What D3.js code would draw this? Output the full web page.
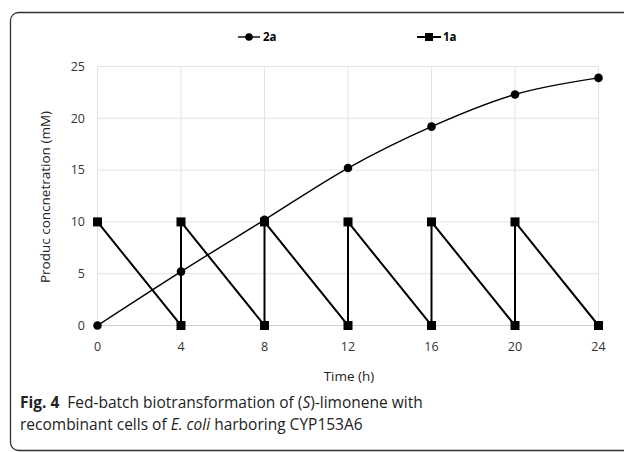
<!DOCTYPE html>
<html>
<head>
<meta charset="utf-8">
<script src="https://cdn.jsdelivr.net/npm/d3@7"></script>
<style>
  body { margin: 0; background: #fff; }
  svg { display: block; }
</style>
</head>
<body>
<svg id="chart" width="624" height="452"></svg>
<script>
// 2a product, measured every 4 h
const hours = [0, 4, 8, 12, 16, 20, 24];
const product2a = [0, 5.2, 10.2, 15.2, 19.2, 22.3, 23.9];

// 1a substrate, fed again every 4 h
const feedTime = [0, 4, 4, 8, 8, 12, 12, 16, 16, 20, 20, 24];
const feedConc = [10, 0, 10, 0, 10, 0, 10, 0, 10, 0, 10, 0];

const xTicks = [0, 4, 8, 12, 16, 20, 24];
const yTicks = [0, 5, 10, 15, 20, 25];

const svg = d3.select("#chart");
const tickFont = "Open Sans, sans-serif";

// figure frame (rounded, runs off the right edge)
svg.append("rect")
  .attr("x", 10.5).attr("y", 12.5)
  .attr("width", 700).attr("height", 438)
  .attr("rx", 8)
  .attr("fill", "none")
  .attr("stroke", "#333")
  .attr("stroke-width", 1.3);

const x = d3.scaleLinear().domain([0, 24]).range([97.5, 598.5]);
const y = d3.scaleLinear().domain([0, 25]).range([325.5, 66.5]);

// grid
svg.append("g").selectAll("line")
  .data(yTicks)
  .join("line")
  .attr("x1", x(0)).attr("x2", x(24))
  .attr("y1", d => y(d)).attr("y2", d => y(d))
  .attr("stroke", d => d === 0 ? "#cfcfcf" : "#e3e3e3")
  .attr("stroke-width", 1);

svg.append("g").selectAll("line")
  .data(xTicks)
  .join("line")
  .attr("x1", d => x(d)).attr("x2", d => x(d))
  .attr("y1", y(0)).attr("y2", y(25))
  .attr("stroke", "#e3e3e3")
  .attr("stroke-width", 1);

// tick labels
svg.append("g").selectAll("text")
  .data(yTicks)
  .join("text")
  .attr("x", 85)
  .attr("y", d => y(d))
  .attr("dy", "0.35em")
  .attr("text-anchor", "end")
  .style("font-family", tickFont)
  .style("font-size", "12.5px")
  .style("fill", "#333")
  .text(d => d);

svg.append("g").selectAll("text")
  .data(xTicks)
  .join("text")
  .attr("x", d => x(d))
  .attr("y", 351)
  .attr("text-anchor", "middle")
  .style("font-family", tickFont)
  .style("font-size", "12.5px")
  .style("fill", "#333")
  .text(d => d);

// axis titles
svg.append("text")
  .attr("transform", "translate(50,197) rotate(-90)")
  .attr("text-anchor", "middle")
  .style("font-family", tickFont)
  .style("font-size", "13.5px")
  .style("fill", "#222")
  .text("Produc concnetration (mM)");

svg.append("text")
  .attr("x", 349).attr("y", 381)
  .attr("text-anchor", "middle")
  .style("font-family", tickFont)
  .style("font-size", "13.5px")
  .style("fill", "#222")
  .text("Time (h)");

// series 2a: smoothed line with round markers
const pts2a = hours.map((h, i) => [h, product2a[i]]);
svg.append("path")
  .datum(pts2a)
  .attr("fill", "none")
  .attr("stroke", "#000")
  .attr("stroke-width", 1.4)
  .attr("d", d3.line().x(d => x(d[0])).y(d => y(d[1])).curve(d3.curveCatmullRom.alpha(0)));

// series 1a: sawtooth with square markers
const pts1a = feedTime.map((t, i) => [t, feedConc[i]]);
svg.append("path")
  .datum(pts1a)
  .attr("fill", "none")
  .attr("stroke", "#000")
  .attr("stroke-width", 2)
  .attr("d", d3.line().x(d => x(d[0])).y(d => y(d[1])));

svg.append("g").selectAll("circle")
  .data(pts2a)
  .join("circle")
  .attr("cx", d => x(d[0]))
  .attr("cy", d => y(d[1]))
  .attr("r", 4.3)
  .attr("fill", "#000");

svg.append("g").selectAll("rect")
  .data(pts1a)
  .join("rect")
  .attr("x", d => x(d[0]) - 4.5)
  .attr("y", d => y(d[1]) - 4.5)
  .attr("width", 9).attr("height", 9)
  .attr("fill", "#000");

// legend
const legend = svg.append("g").attr("transform", "translate(0,37)");
legend.append("line").attr("x1", 238).attr("x2", 260).attr("y1", 0).attr("y2", 0)
  .attr("stroke", "#000").attr("stroke-width", 1.4);
legend.append("circle").attr("cx", 249).attr("cy", 0).attr("r", 3.8).attr("fill", "#000");
legend.append("text").attr("x", 263).attr("y", 0).attr("dy", "0.35em")
  .style("font-family", tickFont).style("font-size", "11.5px").style("font-weight", "bold")
  .text("2a");

legend.append("line").attr("x1", 417).attr("x2", 441).attr("y1", 0).attr("y2", 0)
  .attr("stroke", "#000").attr("stroke-width", 2);
legend.append("rect").attr("x", 425).attr("y", -4).attr("width", 8).attr("height", 8).attr("fill", "#000");
legend.append("text").attr("x", 443).attr("y", 0).attr("dy", "0.35em")
  .style("font-family", tickFont).style("font-size", "11.5px").style("font-weight", "bold")
  .text("1a");

// caption
const capFont = "Open Sans, sans-serif";
const cap1 = svg.append("text").attr("x", 20).attr("y", 408)
  .style("font-family", capFont).style("font-size", "15.5px").style("fill", "#222");
cap1.append("tspan").style("font-weight", "bold").text("Fig. 4");
cap1.append("tspan").attr("dx", 8).text("Fed-batch biotransformation of (");
cap1.append("tspan").style("font-style", "italic").text("S");
cap1.append("tspan").text(")-limonene with");

const cap2 = svg.append("text").attr("x", 20).attr("y", 430)
  .style("font-family", capFont).style("font-size", "15.5px").style("fill", "#222");
cap2.append("tspan").text("recombinant cells of ");
cap2.append("tspan").style("font-style", "italic").text("E. coli");
cap2.append("tspan").text(" harboring CYP153A6");
</script>
</body>
</html>
